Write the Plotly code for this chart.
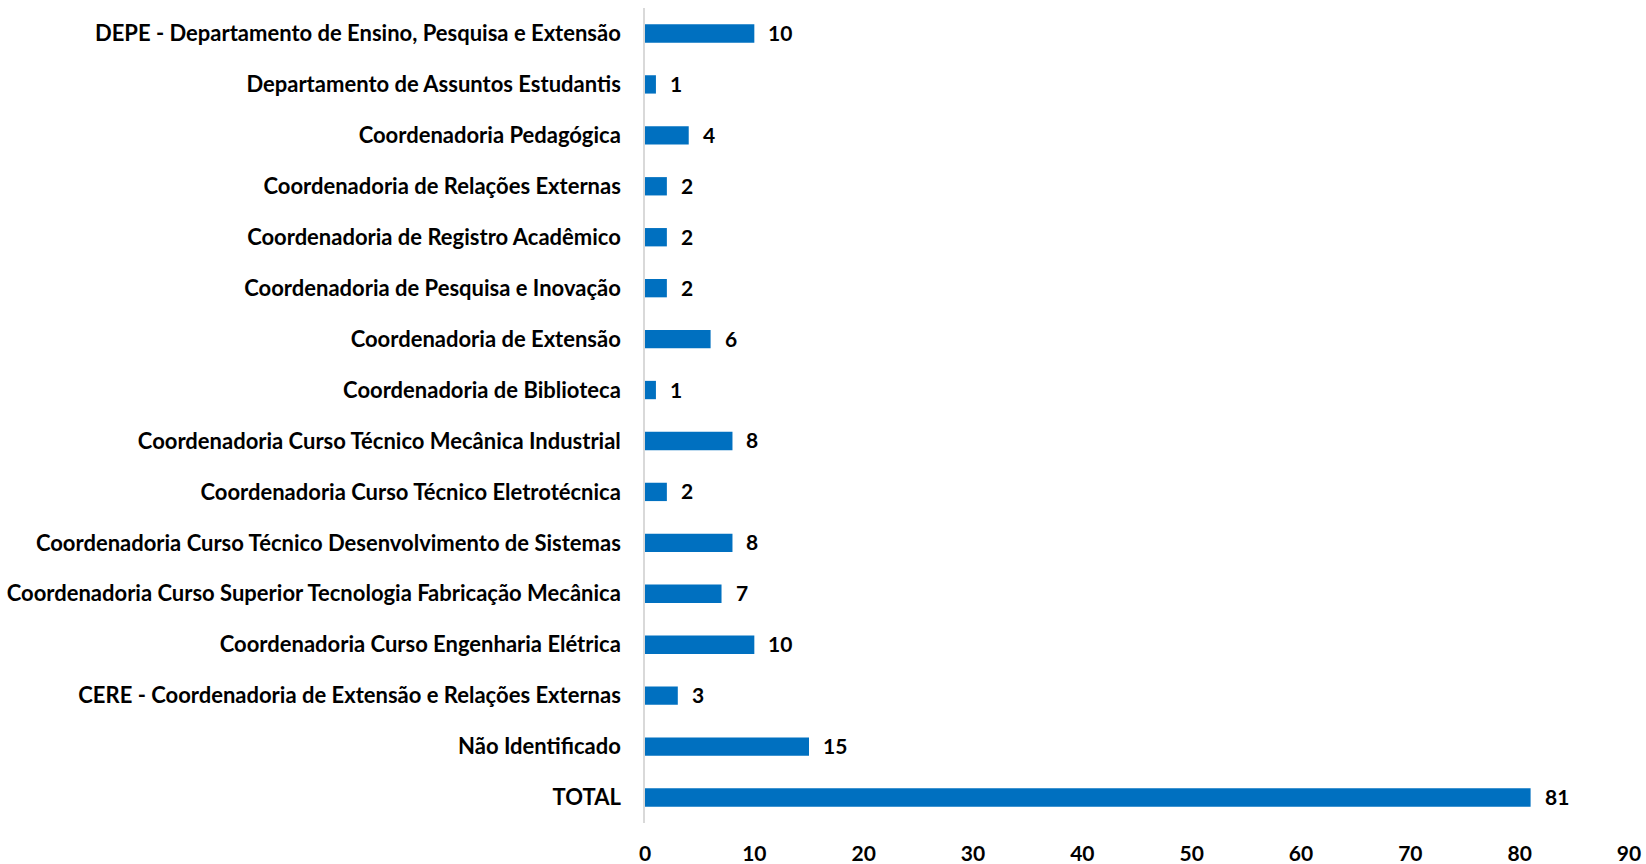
import plotly.graph_objects as go

categories = [
    "DEPE - Departamento de Ensino, Pesquisa e Extensão",
    "Departamento de Assuntos Estudantis",
    "Coordenadoria Pedagógica",
    "Coordenadoria de Relações Externas",
    "Coordenadoria de Registro Acadêmico",
    "Coordenadoria de Pesquisa e Inovação",
    "Coordenadoria de Extensão",
    "Coordenadoria de Biblioteca",
    "Coordenadoria Curso Técnico Mecânica Industrial",
    "Coordenadoria Curso Técnico Eletrotécnica",
    "Coordenadoria Curso Técnico Desenvolvimento de Sistemas",
    "Coordenadoria Curso Superior Tecnologia Fabricação Mecânica",
    "Coordenadoria Curso Engenharia Elétrica",
    "CERE - Coordenadoria de Extensão e Relações Externas",
    "Não Identificado",
    "TOTAL",
]
values = [10, 1, 4, 2, 2, 2, 6, 1, 8, 2, 8, 7, 10, 3, 15, 81]
x_ticks = [0, 10, 20, 30, 40, 50, 60, 70, 80, 90]

FONT = "Lato, sans-serif"
SIZE = 22

fig = go.Figure(
    go.Bar(
        x=values,
        y=categories,
        orientation="h",
        marker=dict(color="#0070C0", line=dict(width=0)),
        width=0.36,
        hoverinfo="x+y",
    )
)

for c, v in zip(categories, values):
    fig.add_annotation(
        x=v, y=c, xref="x", yref="y",
        text=f"<b>{v}</b>",
        showarrow=False,
        xanchor="left",
        yanchor="middle",
        xshift=12,
        yshift=1,
        font=dict(family=FONT, size=SIZE - 1, color="#000000"),
    )

fig.update_layout(
    width=1646,
    height=864,
    margin=dict(l=645, r=17, t=8, b=41),
    paper_bgcolor="white",
    plot_bgcolor="white",
    showlegend=False,
    font=dict(family=FONT, size=SIZE, color="#000000"),
)
fig.update_xaxes(
    range=[0, 90],
    tickvals=x_ticks,
    ticktext=[f"<b>{t}</b>" for t in x_ticks],
    showgrid=False,
    zeroline=False,
    showline=False,
    ticks="",
    automargin=False,
    ticklabelstandoff=16,
    tickfont=dict(family=FONT, size=SIZE - 1, color="#000000"),
)
fig.update_yaxes(
    autorange="reversed",
    showgrid=False,
    showline=True,
    linecolor="#D9D9D9",
    linewidth=1.5,
    ticks="",
    automargin=False,
    ticklabelstandoff=18,
    tickvals=categories,
    ticktext=[f"<b>{c}</b>" for c in categories],
    tickfont=dict(family=FONT, size=SIZE, color="#000000"),
)

fig.write_html(
    "out.html",
    config={"displayModeBar": False},
    post_script="document.body.style.margin='0px';",
)
